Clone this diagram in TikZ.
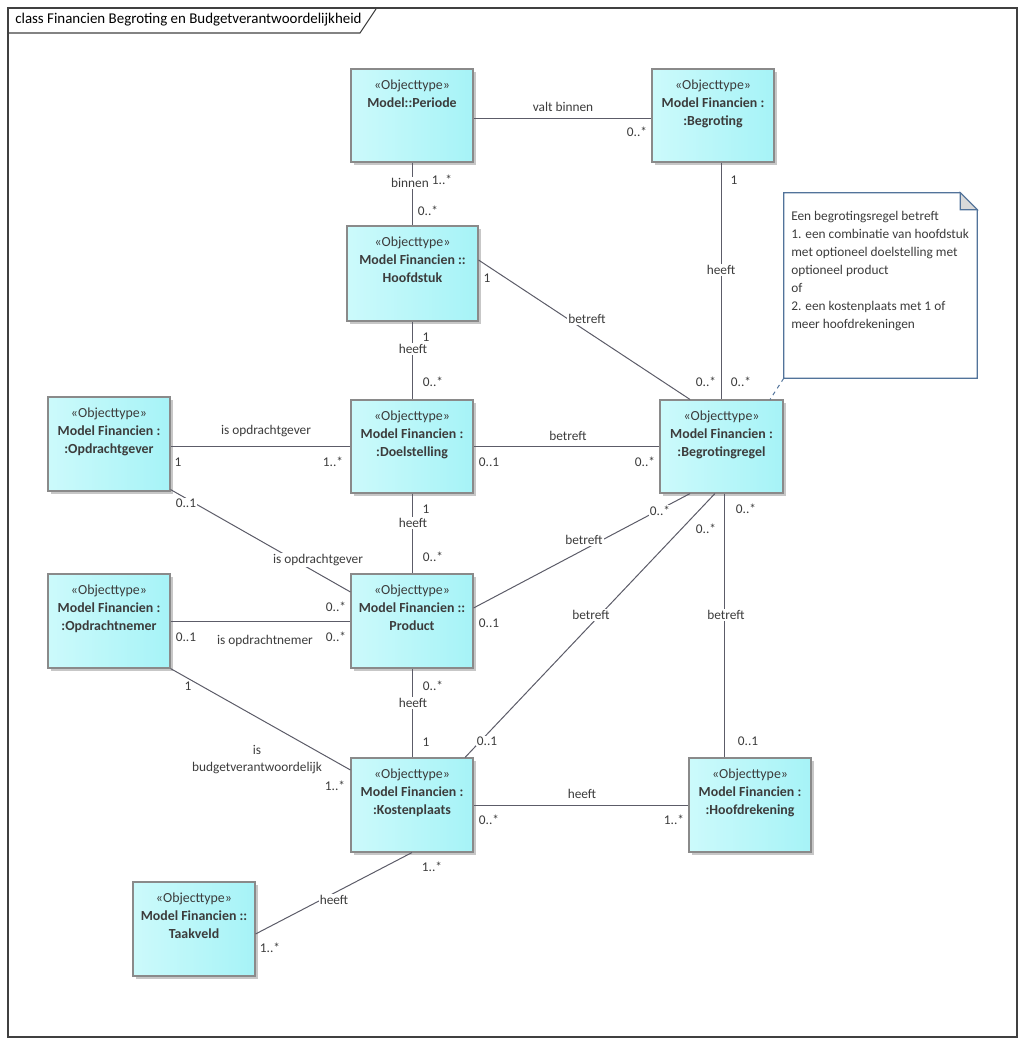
\documentclass[tikz,border=0pt]{standalone}
\usepackage{fontspec}
\setmainfont{Carlito}
\usetikzlibrary{shadows}
\definecolor{boxL}{HTML}{CCFAFB}
\definecolor{boxR}{HTML}{A6F3F7}
\definecolor{boxline}{HTML}{8A8A8A}
\definecolor{connc}{HTML}{5C5C68}
\definecolor{txt}{HTML}{3C3C3C}
\definecolor{notebd}{HTML}{52739A}
\definecolor{framec}{HTML}{404040}
\tikzset{
  objbox/.style={rectangle, draw=boxline, line width=0.8pt, left color=boxL, right color=boxR,
    drop shadow={shadow xshift=2.2pt, shadow yshift=-2.2pt, fill=black!22, opacity=1}, inner sep=0},
  boxtext/.style={anchor=north, align=center, inner sep=0, text=txt, font=\fontsize{10.4}{13.5}\selectfont},
  lbl/.style={fill=white, inner sep=0.8pt, text=txt, font=\fontsize{10}{12.75}\selectfont, align=center},
  connline/.style={draw=connc, line width=0.75pt},
}
\newcommand\mkbox[7]{%
  \node[objbox, minimum width={(#4-#2)*0.75pt}, minimum height={(#5-#3)*0.75pt}] (#1) at ({(#2+#4)/2},{(#3+#5)/2}) {};
  \node[boxtext] (#1-t) at ({(#2+#4)/2},{#3+11}) {«Objecttype»\\\textbf{#6}\\\textbf{#7}};
}
\begin{document}
\begin{tikzpicture}[x=0.75pt,y=-0.75pt]
\useasboundingbox (0,0) rectangle (1025,1045);
% frame
\draw[framec, line width=0.8pt] (8,8) rectangle (1017,1037);
\draw[framec, line width=0.8pt] (8,33) -- (360,33) -- (376,9);
\node[anchor=west, inner sep=0, text=black, font=\fontsize{11.2}{13}\selectfont] (title) at (15,20) {class Financien Begroting en Budgetverantwoordelijkheid};

% boxes
\mkbox{pe}{351}{69}{473}{162}{Model::Periode}{}
\mkbox{bg}{652}{69}{774}{162}{Model Financien :}{:Begroting}
\mkbox{hs}{347}{226}{478}{321}{Model Financien ::}{Hoofdstuk}
\mkbox{br}{660}{400}{783}{493}{Model Financien :}{:Begrotingregel}
\mkbox{og}{48}{397}{170}{491}{Model Financien :}{:Opdrachtgever}
\mkbox{ds}{351}{400}{473}{493}{Model Financien :}{:Doelstelling}
\mkbox{on}{48}{574}{170}{668}{Model Financien :}{:Opdrachtnemer}
\mkbox{pr}{351}{574}{473}{668}{Model Financien ::}{Product}
\mkbox{kp}{351}{758}{473}{852}{Model Financien :}{:Kostenplaats}
\mkbox{hr}{689}{758}{811}{852}{Model Financien :}{:Hoofdrekening}
\mkbox{tv}{133}{882}{255}{976}{Model Financien ::}{Taakveld}

% note
\node[rectangle, minimum width=144.75pt, minimum height=138.75pt, inner sep=0] (note) at (880.5,285.5) {};
\draw[notebd, line width=0.8pt, fill=white] (note.south west) -- (note.north west) -- ([xshift=-12.75pt]note.north east) -- ([yshift=-12.75pt]note.north east) -- (note.south east) -- cycle;
\draw[notebd, line width=0.8pt, fill=black!15] ([xshift=-12.75pt]note.north east) -- ([xshift=-12.75pt,yshift=-12.75pt]note.north east) -- ([yshift=-12.75pt]note.north east) -- cycle;
\node[anchor=north west, align=left, inner sep=0, text=txt, font=\fontsize{10}{13.5}\selectfont] (note-t) at (791,211) {Een begrotingsregel betreft\\1. een combinatie van hoofdstuk\\met optioneel doelstelling met\\optioneel product\\of\\2. een kostenplaats met 1 of\\meer hoofdrekeningen};

% connectors
\draw[connline] ([yshift=-2.6pt]pe.east) -- ([yshift=-2.6pt]bg.west);
\draw[connline] (pe.south) -- (pe.south |- hs.north);
\draw[connline] (br.north |- bg.south) -- (br.north);
\draw[connline] ([yshift=10.1pt]hs.east) -- ([xshift=-23.6pt]br.north);
\draw[notebd, line width=0.75pt, dashed] (note.south west) -- ([xshift=36.4pt]br.north);
\draw[connline] (ds.east) -- (ds.east -| br.west);
\draw[connline] (og.east |- ds.west) -- (ds.west);
\draw[connline] (hs.south) -- (hs.south |- ds.north);
\draw[connline] ([yshift=1.5pt]og.south east) -- ([yshift=21.75pt]pr.west);
\draw[connline] (ds.south) -- (pr.north);
\draw[connline] ([yshift=9.75pt]pr.east) -- ([xshift=-23.6pt]br.south);
\draw[connline] (on.east) -- (pr.west);
\draw[connline] (on.south east) -- ([yshift=26.25pt]kp.west);
\draw[connline] (pr.south) -- (kp.north);
\draw[connline] ([xshift=39.75pt]kp.north) -- ([xshift=-4.9pt]br.south);
\draw[connline] ([xshift=2.6pt]br.south) coordinate (brs) -- (brs |- hr.north);
\draw[connline] (kp.east) -- (hr.west);
\draw[connline] (kp.south) -- ([yshift=-3.75pt]tv.east);

% labels
\node[lbl] (l1) at (563,107) {valt binnen};
\node[lbl] (l2) at (637,132) {0..*};
\node[lbl] (l3) at (410,183) {binnen};
\node[lbl] (l4) at (442,180) {1..*};
\node[lbl] (l5) at (428,211) {0..*};
\node[lbl] (l6) at (734,180) {1};
\node[lbl] (l7) at (721,270) {heeft};
\node[lbl] (l8) at (487,278) {1};
\node[lbl] (l9) at (587,319) {betreft};
\node[lbl] (l10) at (706,382) {0..*};
\node[lbl] (l11) at (741,382) {0..*};
\node[lbl] (l12) at (426,337) {1};
\node[lbl] (l13) at (413,349) {heeft};
\node[lbl] (l14) at (433,382) {0..*};
\node[lbl] (l15) at (266,431) {is opdrachtgever};
\node[lbl] (l16) at (178,462) {1};
\node[lbl] (l17) at (333,462) {1..*};
\node[lbl] (l18) at (568,436) {betreft};
\node[lbl] (l19) at (489,462) {0..1};
\node[lbl] (l20) at (645,462) {0..*};
\node[lbl] (l21) at (186,503) {0..1};
\node[lbl] (l22) at (318,560) {is opdrachtgever};
\node[lbl] (l23) at (426,509) {1};
\node[lbl] (l24) at (413,523) {heeft};
\node[lbl] (l25) at (433,557) {0..*};
\node[lbl] (l26) at (584,540) {betreft};
\node[lbl] (l27) at (660,511) {0..*};
\node[lbl] (l28) at (489,623) {0..1};
\node[lbl] (l29) at (336,607) {0..*};
\node[lbl] (l30) at (186,637) {0..1};
\node[lbl] (l31) at (265,641) {is opdrachtnemer};
\node[lbl] (l32) at (336,637) {0..*};
\node[lbl] (l33) at (188,686) {1};
\node[lbl, fill=none] (l34) at (257,760) {is\\budgetverantwoordelijk};
\node[lbl] (l35) at (335,786) {1..*};
\node[lbl] (l36) at (433,686) {0..*};
\node[lbl] (l37) at (413,703) {heeft};
\node[lbl] (l38) at (426,742) {1};
\node[lbl] (l39) at (591,615) {betreft};
\node[lbl] (l40) at (706,529) {0..*};
\node[lbl] (l41) at (487,741) {0..1};
\node[lbl] (l42) at (746,509) {0..*};
\node[lbl] (l43) at (726,615) {betreft};
\node[lbl] (l44) at (748,741) {0..1};
\node[lbl] (l45) at (582,794) {heeft};
\node[lbl] (l46) at (489,820) {0..*};
\node[lbl] (l47) at (674,820) {1..*};
\node[lbl] (l48) at (334,900) {heeft};
\node[lbl] (l49) at (432,867) {1..*};
\node[lbl] (l50) at (270,948) {1..*};
\end{tikzpicture}
\end{document}
